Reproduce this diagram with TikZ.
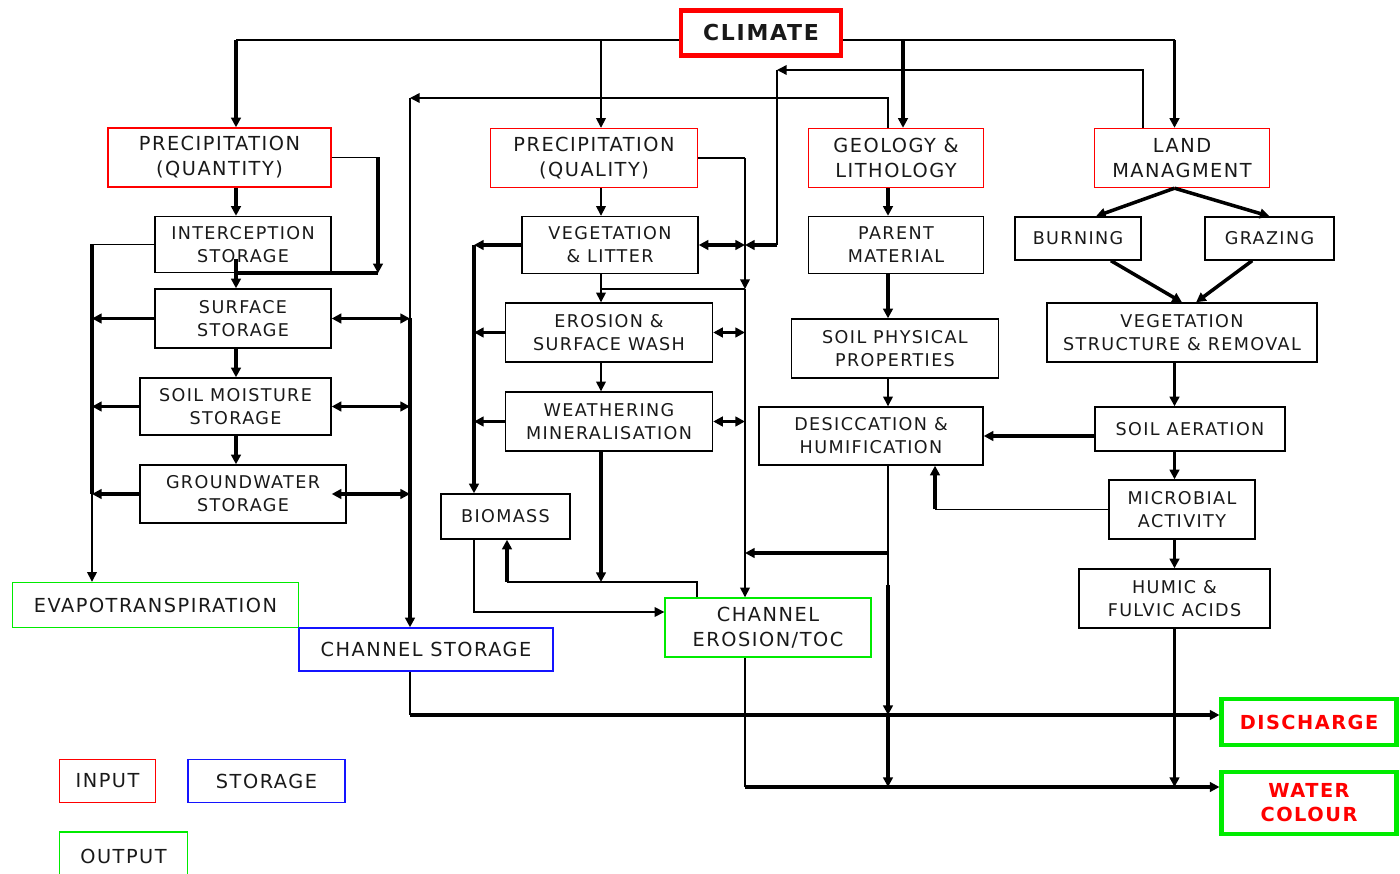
\documentclass[tikz,border=0pt]{standalone}
\usepackage{fontspec}
\setmainfont{DejaVu Sans}[LetterSpace=7.8]
\usetikzlibrary{
	arrows.meta,
	calc
}
\definecolor{boxred}{RGB}{255,0,0}
\definecolor{boxgreen}{RGB}{0,235,0}
\definecolor{boxblue}{RGB}{20,20,255}

\begin{document}
\begin{tikzpicture}[
	x=0.02cm, y=-0.02cm,
	>={Triangle[length=5.5pt,width=5.5pt]},
	box/.style = {
		rectangle,
		draw,
		line width=0.8pt,
		inner sep=0pt,
		align=center,
		text=black!90,
		font=\fontsize{10}{13}\selectfont
	},
	inbox/.style = {box, draw=boxred, font=\fontsize{11}{14.2}\selectfont},
	outbox/.style = {box, draw=boxgreen, font=\fontsize{11}{14}\selectfont},
	storebox/.style = {box, draw=boxblue, font=\fontsize{11}{14}\selectfont},
	endbox/.style = {box, draw=boxgreen, line width=2.3pt, text=boxred, font=\bfseries\fontsize{11}{13.6}\selectfont},
	sz/.style 2 args = {minimum width=#1*0.02cm, minimum height=#2*0.02cm},
	ln/.style = {line width=0.85pt},
	tk/.style = {line width=2pt},
]
	\useasboundingbox (0,0) rectangle (1400,874);

	\node (climate) [box, draw=boxred, line width=2.3pt, sz={160}{45}, font=\bfseries\fontsize{12.5}{15}\selectfont] at (761,33) {CLIMATE};

	\node (pqn) [inbox, sz={223}{59}] at (219.5,157.5) {PRECIPITATION\\(QUANTITY)};
	\node (pql) [inbox, sz={207}{59}] at (594,158) {PRECIPITATION\\(QUALITY)};
	\node (geo) [inbox, sz={175}{59}] at (896,158) {GEOLOGY \&\\LITHOLOGY};
	\node (land) [inbox, sz={175}{59}] at (1182,158) {LAND\\MANAGMENT};

	\node (intercept) [box, sz={176}{56}] at (243,244.5) {INTERCEPTION\\STORAGE};
	\node (surface) [box, sz={176}{59}] at (243,318.5) {SURFACE\\STORAGE};
	\node (soilmoist) [box, sz={191}{57}] at (235.5,406.5) {SOIL MOISTURE\\STORAGE};
	\node (ground) [box, sz={206}{58}] at (243,494) {GROUNDWATER\\STORAGE};
	\node (evapo) [outbox, sz={286}{45}] at (155.5,605) {EVAPOTRANSPIRATION};
	\node (chstore) [storebox, sz={254}{43}] at (426,649.5) {CHANNEL STORAGE};

	\node (veglit) [box, sz={176}{57}] at (610,245) {VEGETATION\\\& LITTER};
	\node (erosion) [box, sz={207}{59}] at (609,332.5) {EROSION \&\\SURFACE WASH};
	\node (weather) [box, sz={207}{59}] at (609,421.5) {WEATHERING\\MINERALISATION};
	\node (biomass) [box, sz={129}{45}] at (505.5,516.5) {BIOMASS};
	\node (chero) [outbox, sz={206}{59}] at (768,627.5) {CHANNEL\\EROSION/TOC};

	\node (parent) [box, sz={175}{57}] at (896,245) {PARENT\\MATERIAL};
	\node (soilphys) [box, sz={207}{59}] at (895,348.5) {SOIL PHYSICAL\\PROPERTIES};
	\node (desic) [box, sz={224}{58}] at (871,436) {DESICCATION \&\\HUMIFICATION};

	\node (burning) [box, sz={126}{43}] at (1078,238.5) {BURNING};
	\node (grazing) [box, sz={129}{43}] at (1269.5,238.5) {GRAZING};
	\node (vegstruct) [box, sz={270}{59}] at (1182,332.5) {VEGETATION\\STRUCTURE \& REMOVAL};
	\node (aeration) [box, sz={190}{44}] at (1190,429) {SOIL AERATION};
	\node (microbial) [box, sz={146}{59}] at (1182,509.5) {MICROBIAL\\ACTIVITY};
	\node (humic) [box, sz={191}{59}] at (1174.5,598.5) {HUMIC \&\\FULVIC ACIDS};

	\node (discharge) [endbox, sz={175}{46}] at (1309,722) {DISCHARGE};
	\node (watercol) [endbox, sz={175}{62}] at (1309,803) {WATER\\COLOUR};

	\node (input) [inbox, sz={96}{43}] at (107.5,781) {INPUT};
	\node (storage) [storebox, sz={157}{43}] at (266.5,781) {STORAGE};
	\node (output) [outbox, sz={128}{48}] at (123.5,856) {OUTPUT};

	\coordinate (cq) at (236,40);
	\coordinate (cql) at (601,40);
	\coordinate (cg) at (903,40);
	\coordinate (cl) at (1174.5,40);
	\coordinate (lm) at (1143,70);
	\coordinate (vl) at (777,70);
	\coordinate (gm) at (888,98);
	\coordinate (sbus) at (410,98);
	\coordinate (pr) at (378,157.5);
	\coordinate (lbus) at (92,245);
	\coordinate (qbus) at (745,158);
	\coordinate (qmid) at (745,289);
	\coordinate (bbus) at (474,245);
	\coordinate (wb) at (601,582);
	\coordinate (ce) at (697,582);
	\coordinate (bm) at (507,582);
	\coordinate (bb) at (474,612);
	\coordinate (dj) at (888,553);
	\coordinate (dk) at (888,585);
	\coordinate (ma) at (935,509.5);
	\coordinate (dis) at (410,715);
	\coordinate (wat) at (745,787);

	\draw[ln] (climate.west |- cq) -- (cq);
	\draw[ln] (climate.east |- cl) -- (cl);
	\draw[tk,->] (cq) -- (cq |- pqn.north);
	\draw[ln,->] (cql) -- (cql |- pql.north);
	\draw[tk,->] (cg) -- (cg |- geo.north);
	\draw[tk,->] (cl) -- (cl |- land.north);

	\draw[ln,->] (lm |- land.north) -- (lm) -- (vl);
	\draw[ln] (vl) -- (vl |- veglit.east);
	\draw[tk,->] (vl |- veglit.east) -- (qbus |- veglit.east);
	\draw[ln,->] (gm |- geo.north) -- (gm) -- (sbus);
	\draw[ln] (sbus) -- (sbus |- surface.east);
	\draw[tk,->] (sbus |- surface.east) -- (sbus |- chstore.north);

	\draw[tk,->] (cq |- pqn.south) -- (cq |- intercept.north);
	\draw[ln] (pqn.east) -- (pr);
	\draw[tk,->] (pr) -- (pr |- intercept.south);
	\draw[tk] (pr |- intercept.south) -- (cq |- intercept.south);
	\draw[tk,->] ($(cq |- intercept.south)+(0,-14)$) -- (cq |- surface.north);
	\draw[tk,->] (cq |- surface.south) -- (cq |- soilmoist.north);
	\draw[tk,->] (cq |- soilmoist.south) -- (cq |- ground.north);
	\draw[ln] (intercept.west) -- (lbus |- intercept.west);
	\draw[tk] (lbus |- intercept.west) -- (lbus |- ground.west);
	\draw[ln,->] (lbus |- ground.west) -- (lbus |- evapo.north);
	\foreach \n in {surface,soilmoist,ground}
		\draw[tk,->] (\n.west) -- (lbus |- \n.west);
	\draw[tk,<->] (surface.east) -- (sbus |- surface.east);
	\draw[tk,<->] (soilmoist.east) -- (sbus |- soilmoist.east);
	\draw[tk,<->] (soilmoist.east |- ground.east) -- (sbus |- ground.east);

	\draw[ln,->] (cql |- pql.south) -- (cql |- veglit.north);
	\draw[ln] (pql.east) -- (qbus);
	\draw[ln,->] (qbus) -- (qmid);
	\draw[ln,->] (qmid) -- (qbus |- chero.north);
	\draw[ln] (cql |- qmid) -- (qmid);
	\draw[ln,->] (cql |- veglit.south) -- (cql |- erosion.north);
	\draw[ln,->] (cql |- erosion.south) -- (cql |- weather.north);
	\foreach \n in {veglit,erosion,weather}
		\draw[tk,<->] (\n.east) -- (qbus |- \n.east);
	\draw[tk,->] (veglit.west) -- (bbus);
	\draw[tk,->] (bbus) -- (bbus |- biomass.north);
	\draw[tk,->] (erosion.west) -- (bbus |- erosion.west);
	\draw[tk,->] (weather.west) -- (bbus |- weather.west);
	\draw[tk,->] (cql |- weather.south) -- (wb);
	\draw[ln] (ce |- chero.north) -- (ce) -- (bm);
	\draw[tk,->] (bm) -- (bm |- biomass.south);
	\draw[ln,->] (bb |- biomass.south) -- (bb) -- (chero.west |- bb);

	\draw[tk,->] (gm |- geo.south) -- (gm |- parent.north);
	\draw[tk,->] (gm |- parent.south) -- (gm |- soilphys.north);
	\draw[ln,->] (gm |- soilphys.south) -- (gm |- desic.north);
	\draw[ln] (gm |- desic.south) -- (dk);
	\draw[tk,->] (dj) -- (qbus |- dj);
	\draw[tk,->] (dk) -- (gm |- dis);
	\draw[tk,->] (gm |- dis) -- (gm |- wat);

	\draw[tk,->] (cl |- land.south) -- (burning.51);
	\draw[tk,->] (cl |- land.south) -- (grazing.north);
	\draw[tk,->] (burning.-34) -- (vegstruct.north);
	\draw[tk,->] (grazing.232) -- (vegstruct.65);
	\draw[tk,->] (cl |- vegstruct.south) -- (cl |- aeration.north);
	\draw[tk,->] (aeration.west |- desic.east) -- (desic.east);
	\draw[tk,->] (cl |- aeration.south) -- (cl |- microbial.north);
	\draw[ln] (microbial.west) -- (ma);
	\draw[tk,->] (ma) -- (ma |- desic.south);
	\draw[tk,->] (cl |- microbial.south) -- (cl |- humic.north);
	\draw[tk,->] (cl |- humic.south) -- (cl |- wat);

	\draw[ln] (chstore.south -| dis) -- (dis);
	\draw[tk,->] (dis) -- (discharge.west |- dis);
	\draw[ln] (chero.south -| wat) -- (wat);
	\draw[tk,->] (wat) -- (watercol.west |- wat);
\end{tikzpicture}
\end{document}
